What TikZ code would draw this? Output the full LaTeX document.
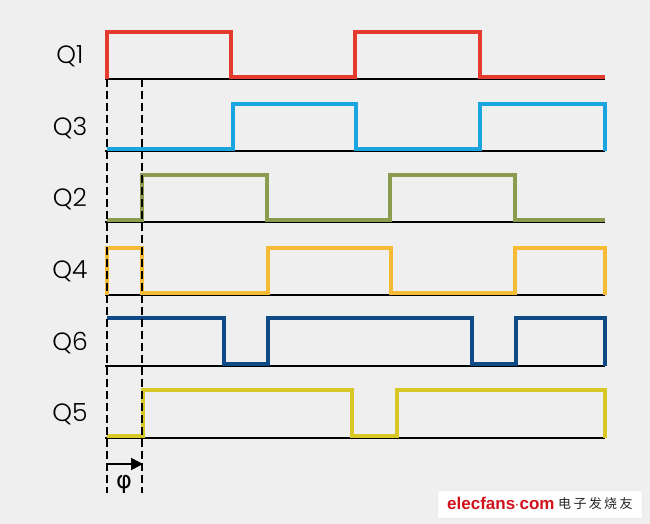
\documentclass[tikz,border=0pt]{standalone}
\usepackage{fontspec}
\setmainfont{Poppins Light}
\newfontfamily\greekfont{DejaVu Sans}
\newfontfamily\wmfont{Liberation Sans}
\newfontfamily\cjkfont[LetterSpace=18]{Noto Sans CJK SC}
\usetikzlibrary{arrows.meta}

\definecolor{bgcol}{HTML}{EFEFEF}
\definecolor{qred}{HTML}{E53A2E}
\definecolor{qcyan}{HTML}{1BA5DF}
\definecolor{qolive}{HTML}{8C9C4F}
\definecolor{qorange}{HTML}{F6BB35}
\definecolor{qnavy}{HTML}{0E4A86}
\definecolor{qyellow}{HTML}{D8C825}
\definecolor{wmred}{HTML}{D0121B}

\begin{document}
\begin{tikzpicture}[
  x=1pt, y=-1pt,
  wave/.style={line width=3.3pt, line join=miter},
  axis/.style={line width=1.6pt, black},
  guide/.style={dash pattern=on 8pt off 4pt, line width=1.6pt},
  siglabel/.style={font=\fontsize{25}{25}\selectfont, anchor=center},
  arrow/.style={-{Triangle[length=12pt, width=12pt]}, line width=1.6pt}
]

% BACKGROUND
\fill[bgcol] (0,0) rectangle (650,524);
\useasboundingbox (0,0) rectangle (650,524);

% LABELS
\node[siglabel] (lq1) at (70,56) {Q1};
\node[siglabel] (lq3) at (70,128) {Q3};
\node[siglabel] (lq2) at (70,199) {Q2};
\node[siglabel] (lq4) at (70,271) {Q4};
\node[siglabel] (lq6) at (70,343) {Q6};
\node[siglabel] (lq5) at (70,414) {Q5};

% AXES
\foreach \y in {79,151,222,295,366,438}
  \draw[axis] (105,\y) -- (605,\y);

% WAVES
\draw[wave, qred] (107,79) -- (107,32) -- (231,32) -- (231,77) -- (355,77)
  -- (355,32) -- (480,32) -- (480,77) -- (605,77);
\draw[wave, qcyan] (107,149) -- (233,149) -- (233,104) -- (356,104) -- (356,149)
  -- (480,149) -- (480,104) -- (605,104) -- (605,151);
\draw[wave, qolive] (107,220) -- (142,220) -- (142,175) -- (267,175) -- (267,220)
  -- (390,220) -- (390,175) -- (515,175) -- (515,220) -- (605,220);
\draw[wave, qorange] (107,295) -- (107,248) -- (142,248) -- (142,293) -- (268,293)
  -- (268,248) -- (391,248) -- (391,293) -- (515,293) -- (515,248) -- (605,248) -- (605,295);
\draw[wave, qnavy] (107,318) -- (224,318) -- (224,364) -- (268,364) -- (268,318)
  -- (472,318) -- (472,364) -- (516,364) -- (516,318) -- (605,318) -- (605,366);
\draw[wave, qyellow] (107,436) -- (143,436) -- (143,390) -- (352,390) -- (352,436)
  -- (397,436) -- (397,390) -- (605,390) -- (605,438);

% PHASE SHIFT
\coordinate (g1top) at (107,79);
\coordinate (g1bot) at (107,493);
\coordinate (g2top) at (142,79);
\coordinate (g2bot) at (142,493);
\draw[guide] (g1top) -- (g1bot);
\draw[guide] (g2top) -- (g2bot);
\coordinate (phiA) at (107,464);
\coordinate (phiB) at (143,464);
\draw[arrow] (phiA) -- (phiB);
\node[font=\greekfont\fontsize{24}{24}\selectfont] (phi) at (124,484) {φ};

% WATERMARK
\node[draw=black!8, fill=white, minimum width=205pt, minimum height=28pt, inner sep=0pt] (wm) at (539.5,504) {};
\node[font=\wmfont\bfseries\fontsize{17}{17}\selectfont, text=wmred, anchor=west, inner sep=0pt] (wmtext) at (447,503)
  {elecfans\kern0.5pt\raisebox{0.5pt}{\fontsize{10}{10}\selectfont·}\kern0.5pt com};
\node[font=\cjkfont\fontsize{13}{13}\selectfont, text=black!85, anchor=west, inner sep=0pt] (wmcjk) at (558,504) {电子发烧友};

\end{tikzpicture}
\end{document}
